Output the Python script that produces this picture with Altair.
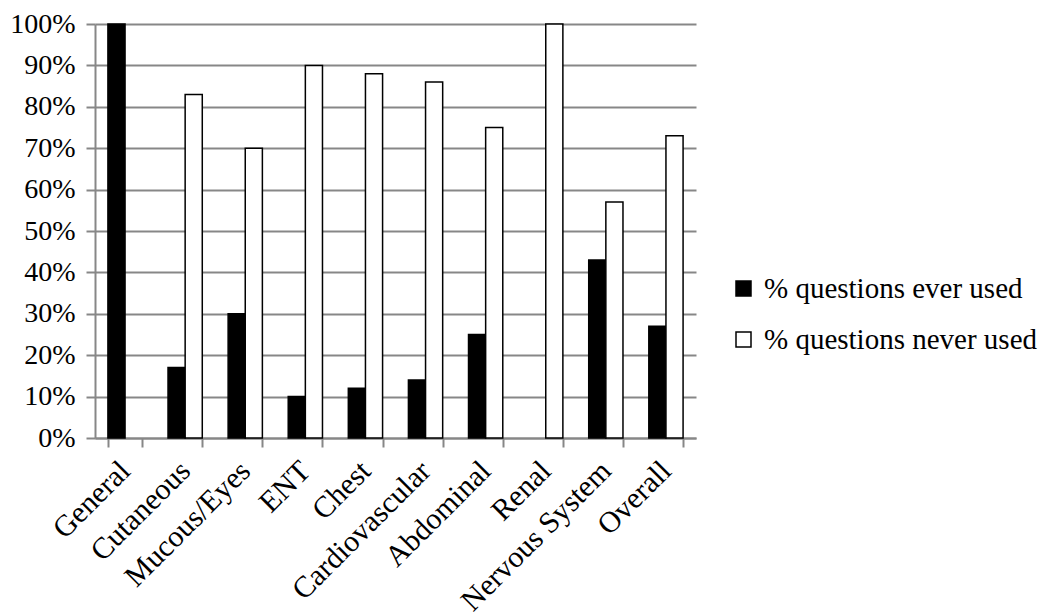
import altair as alt
import pandas as pd

categories = ["General", "Cutaneous", "Mucous/Eyes", "ENT", "Chest",
              "Cardiovascular", "Abdominal", "Renal", "Nervous System", "Overall"]
series = ["% questions ever used", "% questions never used"]
ever_used = [100, 17, 30, 10, 12, 14, 25, 0, 43, 27]
never_used = [0, 83, 70, 90, 88, 86, 75, 100, 57, 73]

rows = []
for c, e, n in zip(categories, ever_used, never_used):
    rows.append({"category": c, "series": series[0], "value": e})
    rows.append({"category": c, "series": series[1], "value": n})
df = pd.DataFrame(rows)

FONT = "Liberation Serif"
GRID = "#878787"

chart = (
    alt.Chart(df)
    .transform_filter("datum.value > 0")
    .mark_bar(stroke="black", strokeWidth=1.5)
    .encode(
        x=alt.X(
            "category:N",
            sort=categories,
            scale=alt.Scale(paddingInner=0.43, paddingOuter=0.215),
            axis=alt.Axis(
                title=None,
                labelAngle=-45,
                labelBaseline="middle",
                tickBand="extent",
                labelFont=FONT,
                labelFontSize=30,
                labelColor="black",
                labelPadding=19,
                labelLimit=400,
                tickSize=9,
                tickWidth=2,
                tickColor=GRID,
                domainColor=GRID,
                domainWidth=2,
                grid=False,
            ),
        ),
        xOffset=alt.XOffset("series:N", sort=series),
        y=alt.Y(
            "value:Q",
            scale=alt.Scale(domain=[0, 100]),
            axis=alt.Axis(
                title=None,
                values=list(range(0, 101, 10)),
                labelExpr="datum.value + '%'",
                labelFont=FONT,
                labelFontSize=28,
                labelColor="black",
                labelPadding=11,
                tickSize=9,
                tickWidth=2,
                tickColor=GRID,
                domainColor=GRID,
                domainWidth=2,
                grid=True,
                gridColor=GRID,
                gridWidth=2,
            ),
        ),
        fill=alt.Fill(
            "series:N",
            sort=series,
            scale=alt.Scale(domain=series, range=["black", "white"]),
            legend=alt.Legend(
                title=None,
                orient="none",
                legendX=634,
                legendY=250,
                symbolType="square",
                symbolSize=225,
                symbolStrokeColor="black",
                symbolStrokeWidth=1.5,
                labelFont=FONT,
                labelFontSize=29,
                labelColor="black",
                labelOffset=6,
                labelLimit=400,
                rowPadding=21,
            ),
        ),
    )
    .properties(
        width=601,
        height=414,
        autosize=alt.AutoSizeParams(type="none"),
        padding={"left": 87, "top": 16, "right": 346, "bottom": 178},
    )
    .configure_view(stroke=None)
)

chart.save("out.html", embed_options={"renderer": "svg", "actions": False})
